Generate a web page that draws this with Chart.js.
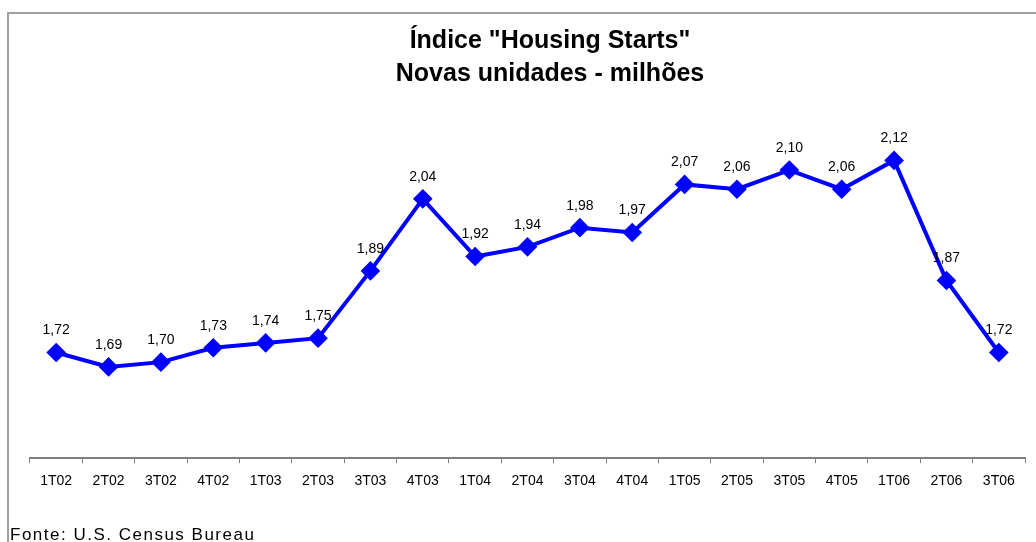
<!DOCTYPE html>
<html>
<head>
<meta charset="utf-8">
<script src="https://cdn.jsdelivr.net/npm/chart.js@4"></script>
<style>
  body { margin: 0; background: #fff; overflow: hidden; }
  #frame { position: absolute; left: 7px; top: 12px; width: 1100px; height: 600px;
           border-left: 2px solid #a0a0a0; border-top: 2px solid #a0a0a0; }
  #wrap { position: absolute; left: 0; top: 0; width: 1036px; height: 542px; }
  #fonte { position: absolute; left: 10px; top: 525px; line-height: 17px; letter-spacing: 1.5px;
           font: 17px "Liberation Sans", Arial, sans-serif; color: #000; white-space: nowrap; }
</style>
</head>
<body>
<div id="frame"></div>
<div id="wrap"><canvas id="linechart"></canvas></div>
<div id="fonte">Fonte: U.S. Census Bureau</div>
<script>
const quarters = ['1T02', '2T02', '3T02', '4T02', '1T03', '2T03', '3T03', '4T03', '1T04', '2T04',
                  '3T04', '4T04', '1T05', '2T05', '3T05', '4T05', '1T06', '2T06', '3T06'];
const starts = [1.72, 1.69, 1.70, 1.73, 1.74, 1.75, 1.89, 2.04, 1.92, 1.94,
                1.98, 1.97, 2.07, 2.06, 2.10, 2.06, 2.12, 1.87, 1.72];
const titleLines = ['Índice "Housing Starts"', 'Novas unidades - milhões'];

// title and value labels drawn by hand
const labelsPlugin = {
    id: 'labels',
    afterDatasetsDraw(chart) {
        const ctx = chart.ctx;
        ctx.save();
        ctx.fillStyle = '#000';
        ctx.textAlign = 'center';
        ctx.textBaseline = 'middle';
        ctx.font = '14px "Liberation Sans", Arial, sans-serif';
        chart.getDatasetMeta(0).data.forEach((pt, i) => {
            ctx.fillText(starts[i].toFixed(2).replace('.', ','), pt.x, pt.y - 22);
        });
        ctx.textBaseline = 'alphabetic';
        ctx.font = 'bold 25px "Liberation Sans", Arial, sans-serif';
        ctx.fillText(titleLines[0], 550, 48);
        ctx.fillText(titleLines[1], 550, 81);
        ctx.restore();
    }
};

const ctxLine = document.getElementById('linechart');

new Chart(ctxLine, {
    type: 'line',
    data: {
        labels: quarters,
        datasets: [{
            label: 'Housing Starts',
            data: starts,
            borderColor: '#0000FF',
            backgroundColor: '#0000FF',
            borderWidth: 4,
            pointStyle: 'rectRot',
            pointRadius: 7,
            pointHoverRadius: 7,
            tension: 0
        }]
    },
    options: {
        responsive: true,
        maintainAspectRatio: false,
        animation: false,
        layout: { padding: { left: 30, right: 7, top: 122, bottom: 42 } },
        plugins: {
            legend: { display: false },
            tooltip: { enabled: false }
        },
        scales: {
            x: {
                offset: true,
                grid: { offset: true, drawOnChartArea: false, color: '#808080', tickLength: 5 },
                border: { color: '#808080', width: 2 },
                ticks: { color: '#000', padding: 10, font: { size: 14, family: '"Liberation Sans", Arial, sans-serif' } }
            },
            y: {
                display: false,
                min: 1.5,
                max: 2.2
            }
        }
    },
    plugins: [labelsPlugin]
});
</script>
</body>
</html>
